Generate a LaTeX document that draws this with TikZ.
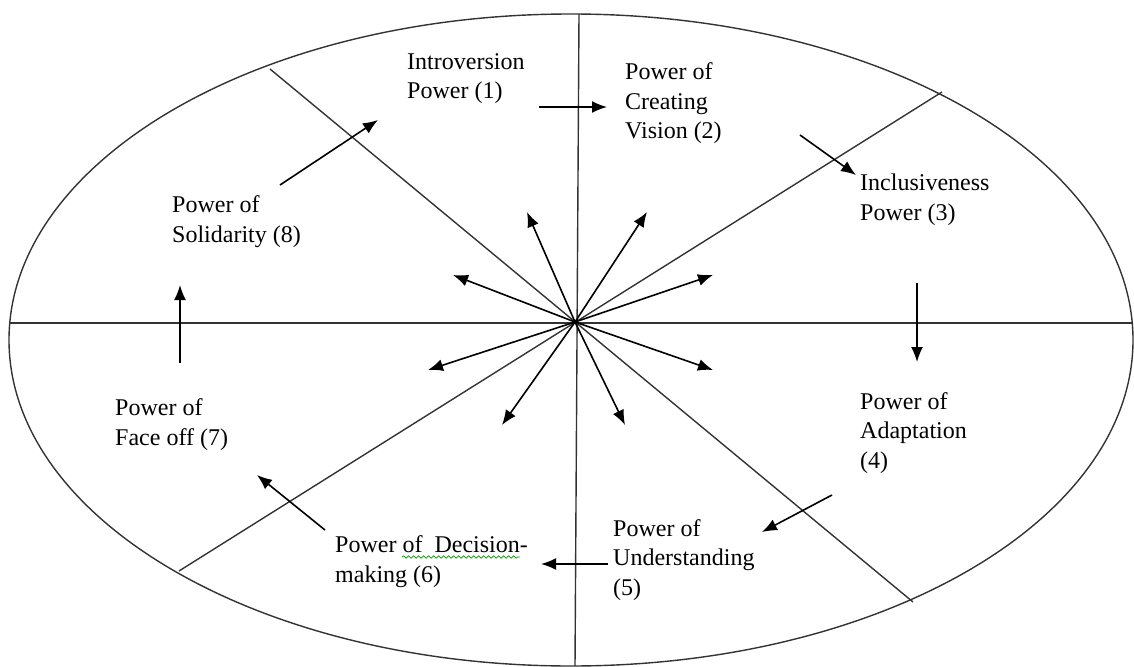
\documentclass[tikz,border=0pt]{standalone}
\usepackage{fontspec}
\setmainfont{Liberation Serif}
\usetikzlibrary{arrows.meta,decorations.pathmorphing}
\begin{document}
\begin{tikzpicture}[x=1pt,y=-1pt,
  rule/.style={draw=black!80,line width=1.4pt},
  arr/.style={draw=black,line width=1.6pt,-{Latex[length=15pt,width=12pt]}},
  lbl/.style={anchor=base west,align=left,inner sep=0pt,font=\fontsize{24}{29.5}\selectfont,text=black},
  squig/.style={draw=green!60!black,line width=0.7pt,decorate,decoration={snake,segment length=5pt,amplitude=1.2pt}}
]
\useasboundingbox (0,0) rectangle (1134,666);
\coordinate (C) at (575,322);
\draw[rule] (571,340) ellipse [x radius=562pt, y radius=326pt];
% dividing lines
\coordinate (d1a) at (270,69);  \coordinate (d1b) at (913,602);
\coordinate (d2a) at (942,92);  \coordinate (d2b) at (179,571);
\coordinate (h1) at (10,323);   \coordinate (h2) at (1132,323);
\coordinate (v1) at (579,14);   \coordinate (v2) at (575,666);
\draw[rule] (d1a) -- (d1b);
\draw[rule] (d2a) -- (d2b);
\draw[rule] (h1) -- (h2);
\draw[rule] (v1) -- (v2);
% radial arrows
\coordinate (r1) at (453,275);
\coordinate (r2) at (713,275);
\coordinate (r3) at (428,370);
\coordinate (r4) at (713,370);
\coordinate (r5) at (502,425);
\coordinate (r6) at (625,425);
\coordinate (r7) at (527,212);
\coordinate (r8) at (647,212);
\foreach \i in {1,...,8}{\draw[arr] (C) -- (r\i);}
% labels (anchored at baseline of last line)
\node[lbl] (n1) at (407,99) {Introversion\\Power (1)};
\node[lbl] (n2) at (625,139) {Power of\\Creating\\Vision (2)};
\node[lbl] (n3) at (860,220) {Inclusiveness\\Power (3)};
\node[lbl] (n4) at (860,468) {Power of\\Adaptation\\(4)};
\node[lbl] (n5) at (613,595) {Power of\\Understanding\\(5)};
\node[lbl] (n6) at (335,582) {Power of\ \ Decision-\\making (6)};
\node[lbl] (n7) at (115,445) {Power of\\Face off (7)};
\node[lbl] (n8) at (172,242) {Power of\\Solidarity (8)};
\coordinate (q1) at (402,557); \coordinate (q2) at (520,557);
\draw[squig] (q1) -- (q2);
% cycle arrows
\coordinate (a1s) at (539,107); \coordinate (a1e) at (607,107);
\coordinate (a2s) at (800,135); \coordinate (a2e) at (856,175);
\coordinate (a3s) at (917,283); \coordinate (a3e) at (917,362);
\coordinate (a4s) at (832,495); \coordinate (a4e) at (762,532);
\coordinate (a5s) at (608,564); \coordinate (a5e) at (541,564);
\coordinate (a6s) at (325,530); \coordinate (a6e) at (257,475);
\coordinate (a7s) at (180,363); \coordinate (a7e) at (180,285);
\coordinate (a8s) at (280,185); \coordinate (a8e) at (378,120);
\foreach \i in {1,...,8}{\draw[arr] (a\i s) -- (a\i e);}
\end{tikzpicture}
\end{document}
